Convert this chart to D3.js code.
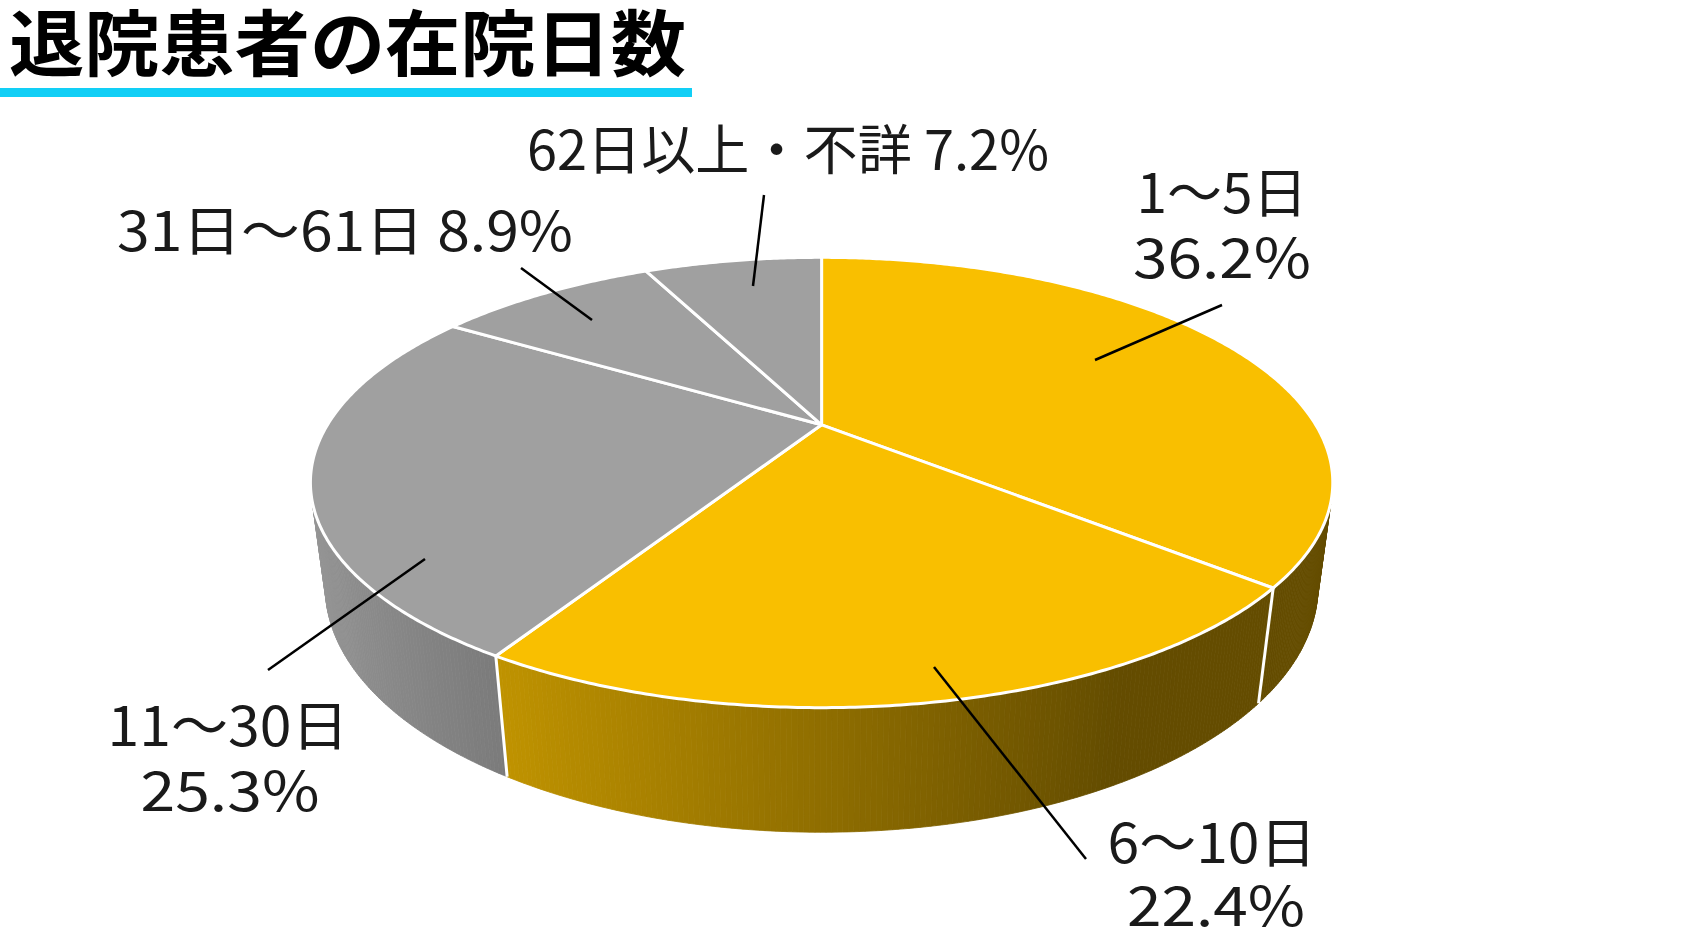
<!DOCTYPE html>
<html>
<head>
<meta charset="utf-8">
<script src="https://cdn.jsdelivr.net/npm/d3@7"></script>
<style>
  html, body { margin: 0; padding: 0; background: #ffffff; }
  svg { display: block; }
</style>
</head>
<body>
<svg id="chart" width="1695" height="934"></svg>
<script>
// ---------- data ----------
const title = "退院患者の在院日数";
const categories = ["1～5日", "6～10日", "11～30日", "31日～61日", "62日以上・不詳"];
const values = [36.2, 22.4, 25.3, 8.9, 7.2];
const sliceColors = ["#F9BF00", "#F9BF00", "#A0A0A0", "#A0A0A0", "#A0A0A0"];

// ---------- label layout (annotation positions) ----------
const labelLayout = [
  { twoLines: true,  cx: [1222, 1222], base: [213, 278], w: [171, 178], line: [[1222, 305], [1095, 360]] },
  { twoLines: true,  cx: [1212, 1216], base: [863, 926], w: [209, 178], line: [[1086, 859], [934, 667]] },
  { twoLines: true,  cx: [228, 230],   base: [746, 811], w: [241, 179], line: [[268, 670], [425, 559]] },
  { twoLines: false, cx: [345],        base: [251],      w: [456],      line: [[521, 268], [592, 320]] },
  { twoLines: false, cx: [788],        base: [170],      w: [522],      line: [[764, 195], [753, 286]] }
];

// ---------- 3D perspective projection ----------
const cam = { cx: 821.6, cy: 424.8, f: 1744.7, d: 3.531, alpha: 25.2 * Math.PI / 180, h: 0.2328 };
const ca = Math.cos(cam.alpha), sa = Math.sin(cam.alpha);
function proj(phi, r, z) {
  const x = r * Math.sin(phi), v = -r * Math.cos(phi);
  const up = z * ca - v * sa;
  const depth = cam.d - v * ca - z * sa;
  return [cam.cx + cam.f * x / depth, cam.cy - cam.f * up / depth];
}
// front-facing range of outer wall
const cosLimit = -1 / (cam.d * ca);
const faceA = Math.acos(cosLimit);          // ~108deg
const faceB = 2 * Math.PI - faceA;          // ~252deg
function shade(phi) {
  const lightDir = 270 * Math.PI / 180;
  return Math.max(0.40, Math.min(1, 0.576 + 0.377 * Math.cos(phi - lightDir)));
}

const svg = d3.select("#chart");
const fontCJK = "'Noto Sans CJK JP', 'Noto Sans', sans-serif";

// ---------- title ----------
svg.append("text")
  .attr("x", 9).attr("y", 70)
  .attr("font-family", fontCJK)
  .attr("font-weight", 700)
  .attr("font-size", 72)
  .attr("textLength", 677)
  .attr("lengthAdjust", "spacingAndGlyphs")
  .attr("fill", "#000")
  .text(title);
svg.append("rect")
  .attr("x", 0).attr("y", 88).attr("width", 692).attr("height", 9)
  .attr("fill", "#12CFF6");

// ---------- pie ----------
const pie = d3.pie().sort(null).value(d => d).startAngle(0).endAngle(2 * Math.PI);
const arcs = pie(values);
const line = d3.line();
const step = Math.PI / 360;

const gWall = svg.append("g");
arcs.forEach((a, i) => {
  const s = Math.max(a.startAngle, faceA), e = Math.min(a.endAngle, faceB);
  if (e <= s) return;
  const base = d3.color(sliceColors[i]);
  const n = Math.ceil((e - s) / step);
  for (let k = 0; k < n; k++) {
    const p0 = s + (e - s) * k / n, p1 = s + (e - s) * (k + 1) / n;
    const k2 = shade((p0 + p1) / 2);
    const c = d3.rgb(base.r * k2, base.g * k2, base.b * k2).formatHex();
    gWall.append("path")
      .attr("d", line([proj(p0, 1, 0), proj(p1, 1, 0), proj(p1, 1, -cam.h), proj(p0, 1, -cam.h)]) + "Z")
      .attr("fill", c).attr("stroke", c).attr("stroke-width", 0.8);
  }
});
// wall separators
arcs.forEach(a => {
  const phi = a.startAngle;
  if (phi > faceA && phi < faceB) {
    svg.append("path")
      .attr("d", line([proj(phi, 1, 0), proj(phi, 1, -cam.h)]))
      .attr("stroke", "#fff").attr("stroke-width", 3).attr("fill", "none");
  }
});
// top faces
const gTop = svg.append("g");
arcs.forEach((a, i) => {
  const pts = [proj(0, 0, 0)];
  const n = Math.ceil((a.endAngle - a.startAngle) / step);
  for (let k = 0; k <= n; k++) {
    pts.push(proj(a.startAngle + (a.endAngle - a.startAngle) * k / n, 1, 0));
  }
  gTop.append("path")
    .attr("d", line(pts) + "Z")
    .attr("fill", sliceColors[i])
    .attr("stroke", "#fff").attr("stroke-width", 3)
    .attr("stroke-linejoin", "round");
});

// ---------- labels ----------
const gLab = svg.append("g");
labelLayout.forEach((L, i) => {
  gLab.append("path")
    .attr("d", line(L.line))
    .attr("stroke", "#000").attr("stroke-width", 2.5).attr("fill", "none");
  const pct = d3.format(".1f")(values[i]) + "%";
  const lines = L.twoLines ? [categories[i], pct] : [categories[i] + " " + pct];
  lines.forEach((t, j) => {
    gLab.append("text")
      .attr("x", L.cx[j] - L.w[j] / 2).attr("y", L.base[j])
      .attr("font-family", fontCJK)
      .attr("font-size", 54)
      .attr("textLength", L.w[j])
      .attr("lengthAdjust", "spacingAndGlyphs")
      .attr("fill", "#1a1a1a")
      .text(t);
  });
});
</script>
</body>
</html>
